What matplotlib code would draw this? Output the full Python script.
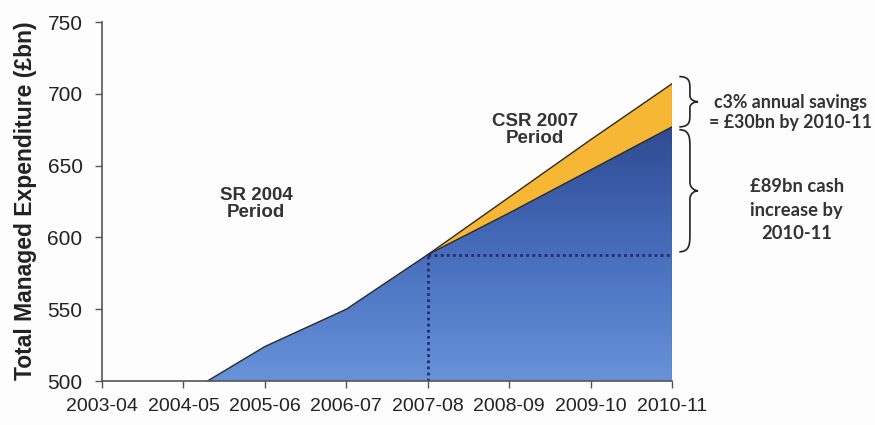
import numpy as np
import matplotlib
matplotlib.use("Agg")
import matplotlib.pyplot as plt
from matplotlib.path import Path
from matplotlib.patches import PathPatch
from matplotlib.colors import LinearSegmentedColormap

# Financial years on the category axis
years = ["2003-04", "2004-05", "2005-06", "2006-07", "2007-08",
         "2008-09", "2009-10", "2010-11"]
# Total Managed Expenditure, £bn (plans incl. savings)
tme = [455, 490, 524, 550, 588, 617, 647, 677]
# Path before value-for-money savings, CSR 2007 period only
csr_years = ["2007-08", "2008-09", "2009-10", "2010-11"]
tme_no_savings = [588, 628, 668, 707]

y_ticks = [500, 550, 600, 650, 700, 750]

plt.rcParams["font.family"] = ["Liberation Sans", "DejaVu Sans"]

fig = plt.figure(figsize=(8.75, 4.25), dpi=100, facecolor="#fdfdfd")
ax = fig.add_axes([0.1166, 0.1035, 0.6514, 0.8447])
ax.set_facecolor("#fdfdfd")

x = np.arange(len(years))
xc = np.array([years.index(y) for y in csr_years])
base = 400

# yellow savings wedge
ax.fill_between(xc, np.array(tme)[xc], tme_no_savings,
                facecolor="#f6b834", edgecolor="none", zorder=2)
# blue TME area with a vertical gradient
blue = ax.fill_between(x, base, tme, facecolor="none", edgecolor="none", zorder=2)
cmap = LinearSegmentedColormap.from_list(
    "tme", ["#6892d8", "#5079c6", "#3c5eab", "#2c468b"])
grad = np.linspace(0, 1, 256).reshape(-1, 1)
img = ax.imshow(grad, cmap=cmap, origin="lower", aspect="auto",
                extent=(0, 7, 500, 690), zorder=2, interpolation="bicubic")
img.set_clip_path(blue.get_paths()[0], transform=ax.transData)

# outline strokes
ax.plot(x, tme, color="#2a2a2a", lw=1.0, zorder=3)
ax.plot(xc, tme_no_savings, color="#2a2a2a", lw=1.0, zorder=3)
ax.plot([7, 7], [500, tme_no_savings[-1]], color="#3a3a3a", lw=0.8, zorder=3)

# dotted reference lines from 2007-08
i0 = years.index("2007-08")
ax.plot([i0, i0], [500, tme[i0]], color="#1f2f6a", lw=2.0, ls=(0, (1, 1.2)), zorder=4)
ax.plot([i0, 7], [tme[i0], tme[i0]], color="#1f2f6a", lw=2.0, ls=(0, (1, 1.2)), zorder=4)

ax.set_xlim(0, 7)
ax.set_ylim(500, 750)
ax.set_xticks(x)
ax.set_xticklabels(years, fontsize=14, color="#222222")
ax.set_yticks(y_ticks)
ax.set_yticklabels([str(v) for v in y_ticks], fontsize=15, color="#222222")
ax.tick_params(axis="both", direction="out", length=5, width=1, color="#555555")
ax.tick_params(axis="x", pad=7)
ax.tick_params(axis="y", pad=9)
for s in ("top", "right"):
    ax.spines[s].set_visible(False)
for s in ("left", "bottom"):
    ax.spines[s].set_color("#555555")
    ax.spines[s].set_linewidth(1.2)
    ax.spines[s].set_zorder(5)

fig.text(0.029, 0.527, "Total Managed Expenditure (£bn)", rotation=90,
         ha="center", va="center", fontsize=16.5, fontweight="bold", color="#222222")

# period labels
ax.text(1.89, 623, "SR 2004\nPeriod", ha="center", va="center", fontsize=13.5,
        fontweight="bold", color="#333333", linespacing=1.0)
ax.text(5.32, 675, "CSR 2007\nPeriod", ha="center", va="center", fontsize=13.5,
        fontweight="bold", color="#333333", linespacing=1.0)


def brace(ax, xpos, y_top, y_bot, depth, tip):
    """Right-pointing curly brace between y_top and y_bot (data units)."""
    ym = (y_top + y_bot) / 2
    h = (y_top - y_bot)
    c = min(6.0, h * 0.12)
    xv = xpos + depth
    verts = [
        (xpos, y_top),
        (xv, y_top), (xv, y_top - c), (xv, y_top - 2 * c),
        (xv, ym + c),
        (xv, ym + 0.3 * c), (xv + tip * 0.6, ym), (xv + tip, ym),
        (xv + tip * 0.6, ym), (xv, ym - 0.3 * c), (xv, ym - c),
        (xv, y_bot + 2 * c),
        (xv, y_bot + c), (xv, y_bot), (xpos, y_bot),
    ]
    codes = [Path.MOVETO,
             Path.CURVE4, Path.CURVE4, Path.CURVE4,
             Path.LINETO,
             Path.CURVE4, Path.CURVE4, Path.CURVE4,
             Path.CURVE4, Path.CURVE4, Path.CURVE4,
             Path.LINETO,
             Path.CURVE4, Path.CURVE4, Path.CURVE4]
    ax.add_patch(PathPatch(Path(verts, codes), facecolor="none",
                           edgecolor="#222222", lw=1.2, clip_on=False, zorder=6))


brace(ax, 7.09, 712, 677, 0.13, 0.10)
brace(ax, 7.09, 675, 590, 0.13, 0.10)

lato = ["Lato", "DejaVu Sans"]
ax.text(8.46, 687, "c3% annual savings\n= £30bn by 2010-11", ha="center", va="center",
        fontsize=12.8, fontweight="bold", family=lato, color="#333333",
        linespacing=1.15, clip_on=False)
ax.text(8.53, 619, "£89bn cash\nincrease by\n2010-11", ha="center", va="center",
        fontsize=13.2, fontweight="bold", family=lato, color="#333333",
        linespacing=1.45, clip_on=False)

fig.savefig("out.png", dpi=100, facecolor=fig.get_facecolor())
